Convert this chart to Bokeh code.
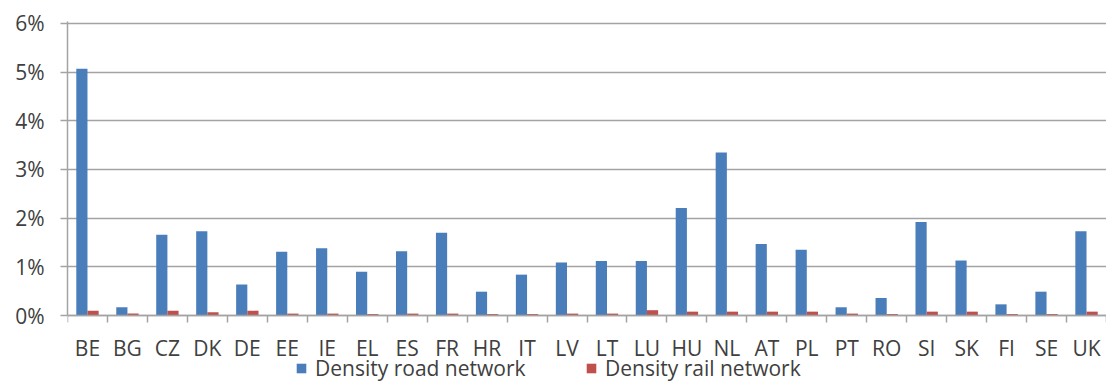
from bokeh.plotting import figure
from bokeh.models import Range1d, FixedTicker, Legend, LegendItem, ColumnDataSource
from bokeh.embed import file_html
from bokeh.resources import INLINE

countries = ["BE", "BG", "CZ", "DK", "DE", "EE", "IE", "EL", "ES", "FR", "HR", "IT", "LV",
             "LT", "LU", "HU", "NL", "AT", "PL", "PT", "RO", "SI", "SK", "FI", "SE", "UK"]
road = [5.07, 0.17, 1.66, 1.73, 0.64, 1.31, 1.38, 0.90, 1.32, 1.70, 0.49, 0.84, 1.09,
        1.12, 1.12, 2.21, 3.35, 1.47, 1.35, 0.17, 0.36, 1.92, 1.13, 0.23, 0.49, 1.73]
rail = [0.10, 0.04, 0.10, 0.07, 0.10, 0.04, 0.04, 0.03, 0.04, 0.04, 0.03, 0.03, 0.04,
        0.04, 0.11, 0.08, 0.08, 0.08, 0.08, 0.04, 0.03, 0.08, 0.08, 0.03, 0.03, 0.08]
y_ticks = [0, 1, 2, 3, 4, 5, 6]
y_labels = ["0%", "1%", "2%", "3%", "4%", "5%", "6%"]
series_names = ["Density road network", "Density rail network"]

FONT = "Open Sans"
TXT = "#404040"
GRID = "#a3a3a3"
BLUE = "#4a7ebb"
RED = "#c0504d"

n = len(countries)
centers = [i + 0.5 for i in range(n)]
src = ColumnDataSource(dict(
    road_x=[c - 0.14 for c in centers], rail_x=[c + 0.14 for c in centers],
    road=road, rail=rail))

# frame reaches the bottom of the picture; the x axis sits at 0% inside it
p = figure(width=1106, height=383, output_backend="svg", toolbar_location=None,
           x_range=Range1d(0, n), y_range=Range1d(-1.396, 6.04),
           min_border_left=67, min_border_right=0, min_border_top=21, min_border_bottom=0)
p.outline_line_color = None
p.background_fill_color = "white"

r1 = p.vbar(x="road_x", top="road", bottom=0, width=0.28, source=src,
            fill_color=BLUE, line_color=None)
r2 = p.vbar(x="rail_x", top="rail", bottom=0, width=0.28, source=src,
            fill_color=RED, line_color=None)

# x axis
p.xaxis.fixed_location = 0
p.xaxis.ticker = FixedTicker(ticks=centers, minor_ticks=list(range(n + 1)))
p.xaxis.major_label_overrides = {c: name for c, name in zip(centers, countries)}
p.xaxis.major_tick_line_color = None
p.xaxis.major_tick_out = 0
p.xaxis.major_tick_in = 0
p.xaxis.minor_tick_line_color = GRID
p.xaxis.minor_tick_line_width = 1.5
p.xaxis.minor_tick_out = 7
p.xaxis.minor_tick_in = 0
p.xaxis.axis_line_color = GRID
p.xaxis.axis_line_width = 1.5
p.xaxis.major_label_text_font = FONT
p.xaxis.major_label_text_font_size = "21px"
p.xaxis.major_label_text_color = TXT
p.xaxis.major_label_standoff = 11
p.xgrid.grid_line_color = None

# y axis
p.yaxis.ticker = FixedTicker(ticks=y_ticks)
p.yaxis.bounds = (0, 6.04)
p.yaxis.major_label_overrides = {t: l for t, l in zip(y_ticks, y_labels)}
p.yaxis.major_tick_line_color = GRID
p.yaxis.major_tick_line_width = 1.5
p.yaxis.major_tick_out = 7
p.yaxis.major_tick_in = 0
p.yaxis.minor_tick_line_color = None
p.yaxis.axis_line_color = GRID
p.yaxis.axis_line_width = 1.5
p.yaxis.major_label_text_font = FONT
p.yaxis.major_label_text_font_size = "21px"
p.yaxis.major_label_text_color = TXT
p.yaxis.major_label_standoff = 16
p.ygrid.grid_line_color = GRID
p.ygrid.grid_line_width = 1.5

legend = Legend(items=[LegendItem(label=series_names[0], renderers=[r1]),
                       LegendItem(label=series_names[1], renderers=[r2])],
                orientation="horizontal", location=(228, 1),
                border_line_color=None, background_fill_alpha=0,
                label_text_font=FONT, label_text_font_size="21px", label_text_color=TXT,
                glyph_width=12, glyph_height=12, spacing=0, padding=0, margin=0,
                label_standoff=8, label_width=270, label_height=18)
p.add_layout(legend, "center")

open("out.html", "w").write(file_html(p, INLINE))
